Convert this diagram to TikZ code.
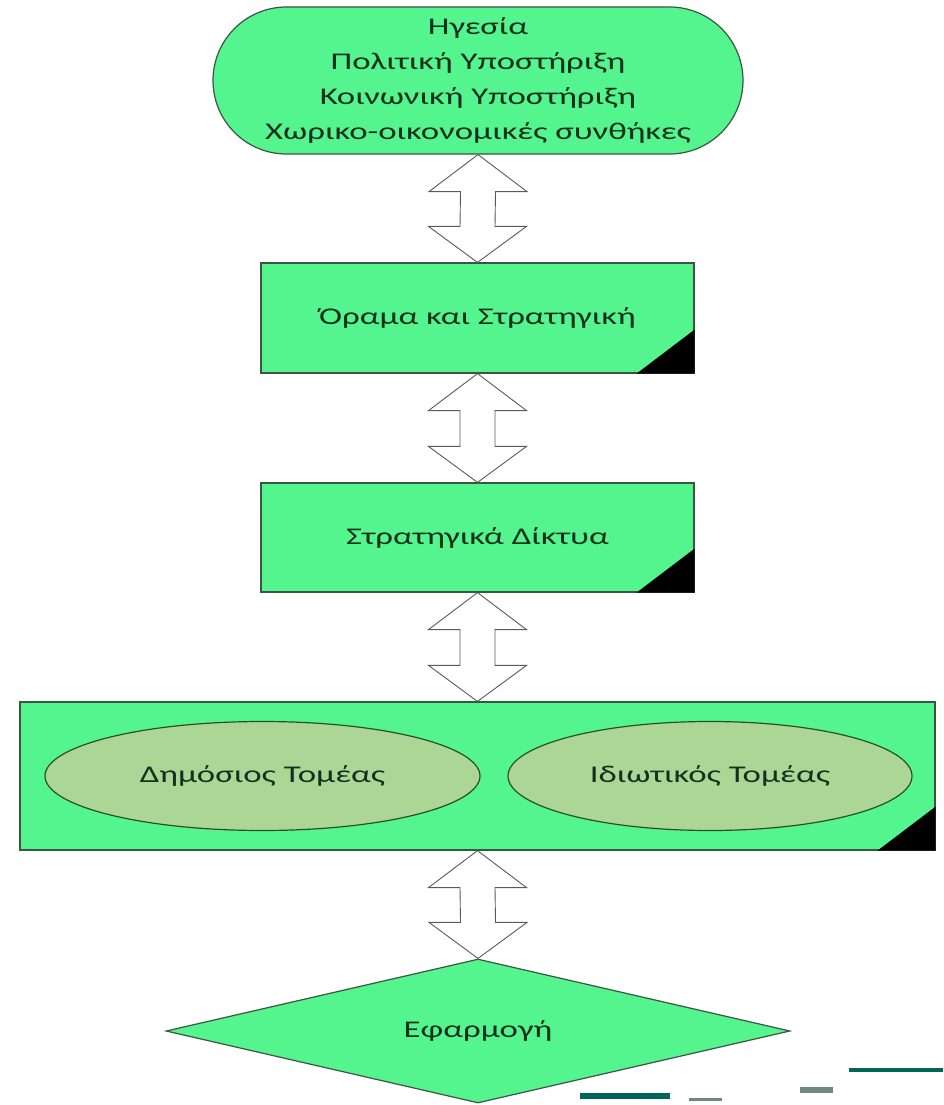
\documentclass[tikz,border=0pt]{standalone}
\usepackage{fontspec}
\setmainfont{Carlito}[FakeStretch=1.45]
\usetikzlibrary{shapes.misc,shapes.geometric,calc}
\definecolor{boxgreen}{RGB}{84,245,142}
\definecolor{boxline}{RGB}{58,86,64}
\definecolor{ellfill}{RGB}{172,214,150}
\definecolor{ellline}{RGB}{40,80,40}
\definecolor{txt}{RGB}{22,48,30}
\definecolor{teal}{RGB}{0,102,88}
\definecolor{greyteal}{RGB}{110,138,122}
\definecolor{arrline}{RGB}{90,90,90}
\tikzset{
  every node/.style={text=txt,font=\fontsize{24}{35}\selectfont},
  greenbox/.style={draw=boxline,line width=1.2pt,fill=boxgreen,inner sep=0pt},
  ellbox/.style={ellipse,draw=ellline,line width=1.2pt,fill=ellfill,inner sep=0pt},
  dblarr/.style={draw=arrline,line width=0.9pt,fill=white,line join=miter},
  corner/.style={fill=black}
}
\newcommand\dblarrow[2]{%
  \path[dblarr] (#1.south) -- ($(#1.south)+(49,37)$) -- ($(#1.south)+(17.5,37)$)
    -- ($(#2.north)+(17.5,-36)$) -- ($(#2.north)+(49,-36)$) -- (#2.north)
    -- ($(#2.north)+(-49,-36)$) -- ($(#2.north)+(-17.5,-36)$)
    -- ($(#1.south)+(-17.5,37)$) -- ($(#1.south)+(-49,37)$) -- cycle;}
\newcommand\blackcorner[1]{%
  \fill[corner] (#1.south east) -- ($(#1.south east)+(0,-44)$) -- ($(#1.south east)+(-58,0)$) -- cycle;}
\begin{document}
\begin{tikzpicture}[x=1pt,y=-1pt]
\useasboundingbox (0,0) rectangle (943,1105);
\node[greenbox,rounded rectangle,minimum width=530pt,minimum height=147pt,align=center] (top) at (478,80.5)
  {Ηγεσία\\Πολιτική Υποστήριξη\\Κοινωνική Υποστήριξη\\Χωρικο-οικονομικές συνθήκες};
\node[greenbox,minimum width=433pt,minimum height=110pt] (vis) at (477.5,318) {Όραμα και Στρατηγική};
\node[greenbox,minimum width=433pt,minimum height=109pt] (net) at (477.5,537.5) {Στρατηγικά Δίκτυα};
\node[greenbox,minimum width=915pt,minimum height=148pt] (sec) at (477.5,776) {};
\node[ellbox,minimum width=435pt,minimum height=109pt] (pub) at (262.5,776) {Δημόσιος Τομέας};
\node[ellbox,minimum width=404pt,minimum height=109pt] (priv) at (710,776) {Ιδιωτικός Τομέας};
\node[greenbox,diamond,aspect=4.33,minimum width=624pt,minimum height=144pt] (impl) at (478,1031) {Εφαρμογή};
\blackcorner{vis}
\blackcorner{net}
\blackcorner{sec}
\dblarrow{top}{vis}
\dblarrow{vis}{net}
\dblarrow{net}{sec}
\dblarrow{sec}{impl}
\fill[teal] (580,1093) rectangle (670,1099);
\fill[greyteal] (689,1098) rectangle (722,1101);
\fill[greyteal] (800,1087) rectangle (833,1093);
\fill[teal] (849,1068) rectangle (943,1072);
\end{tikzpicture}
\end{document}
